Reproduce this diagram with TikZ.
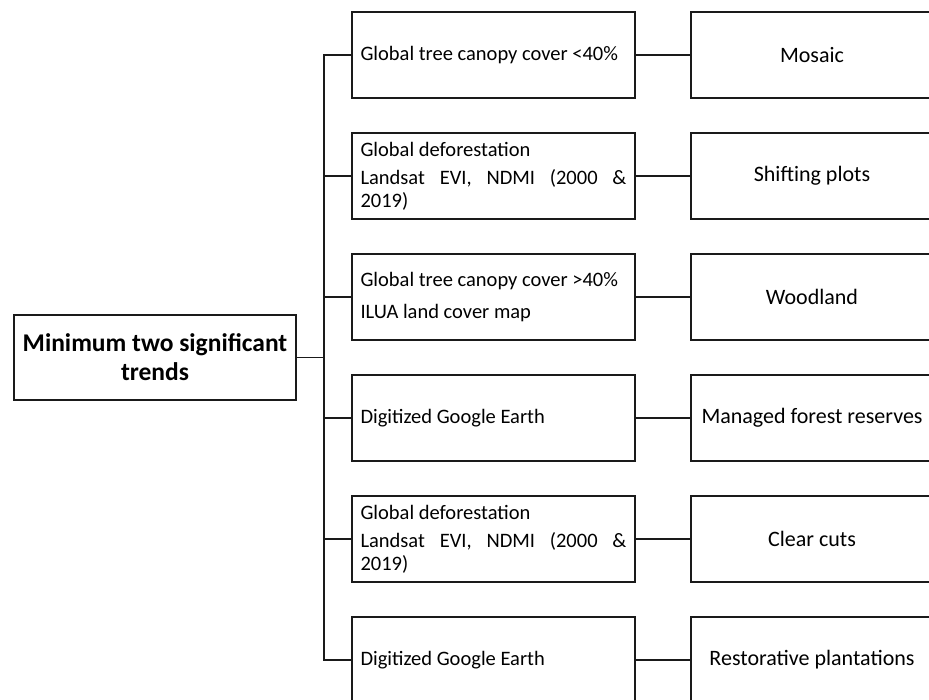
\documentclass[tikz,border=0pt]{standalone}
\usepackage{fontspec}
\setmainfont{Carlito}
\usepackage{tikz}
\usetikzlibrary{positioning}
\definecolor{ink}{HTML}{1A1A1A}

\begin{document}
\begin{tikzpicture}[x=1pt,y=-1pt,line width=1.6pt,
  srcbox/.style={draw=ink,minimum width=283pt,minimum height=86pt,text width=266pt,
    inner xsep=8.5pt,align=flush left,font=\fontsize{20.5}{23}\selectfont},
  classbox/.style={draw=ink,minimum width=242pt,minimum height=86pt,align=flush center,
    font=\fontsize{22}{26}\selectfont},
  rootbox/.style={draw=ink,minimum width=282pt,minimum height=85pt,align=flush center,
    font=\fontsize{25.5}{29}\selectfont\bfseries}]
\useasboundingbox (0,0) rectangle (929,700);
\node[rootbox] (root) at (155,357.5) {Minimum two significant\\trends};
\coordinate (hub) at (324,357.5);
\node[srcbox] (m1) at (493.5,55) {Global tree canopy cover <40\%};
\node[srcbox,below=33.4pt of m1] (m2) {Global deforestation\\[5pt]Landsat\hfill EVI,\hfill NDMI\hfill (2000\hfill \&\\2019)};
\node[srcbox,below=33.4pt of m2] (m3) {Global tree canopy cover >40\%\\[9pt]ILUA land cover map};
\node[srcbox,below=33.4pt of m3] (m4) {Digitized Google Earth};
\node[srcbox,below=33.4pt of m4] (m5) {Global deforestation\\[5pt]Landsat\hfill EVI,\hfill NDMI\hfill (2000\hfill \&\\2019)};
\node[srcbox,below=33.4pt of m5] (m6) {Digitized Google Earth};
\node[classbox,right=54.4pt of m1] (c1) {Mosaic};
\node[classbox,right=54.4pt of m2] (c2) {Shifting plots};
\node[classbox,right=54.4pt of m3] (c3) {Woodland};
\node[classbox,right=54.4pt of m4] (c4) {Managed forest reserves};
\node[classbox,right=54.4pt of m5] (c5) {Clear cuts};
\node[classbox,right=54.4pt of m6] (c6) {Restorative plantations};
% tree lines
\draw[ink] (root) -- (hub);
\draw[ink] (m1.west) -- (m1.west -| hub) -- (m6.west -| hub) -- (m6.west);
\draw[ink] (m2.west) -- (m2.west -| hub); \draw[ink] (m3.west) -- (m3.west -| hub);
\draw[ink] (m4.west) -- (m4.west -| hub); \draw[ink] (m5.west) -- (m5.west -| hub);
\draw[ink] (m1) -- (c1); \draw[ink] (m2) -- (c2); \draw[ink] (m3) -- (c3);
\draw[ink] (m4) -- (c4); \draw[ink] (m5) -- (c5); \draw[ink] (m6) -- (c6);
\end{tikzpicture}
\end{document}
